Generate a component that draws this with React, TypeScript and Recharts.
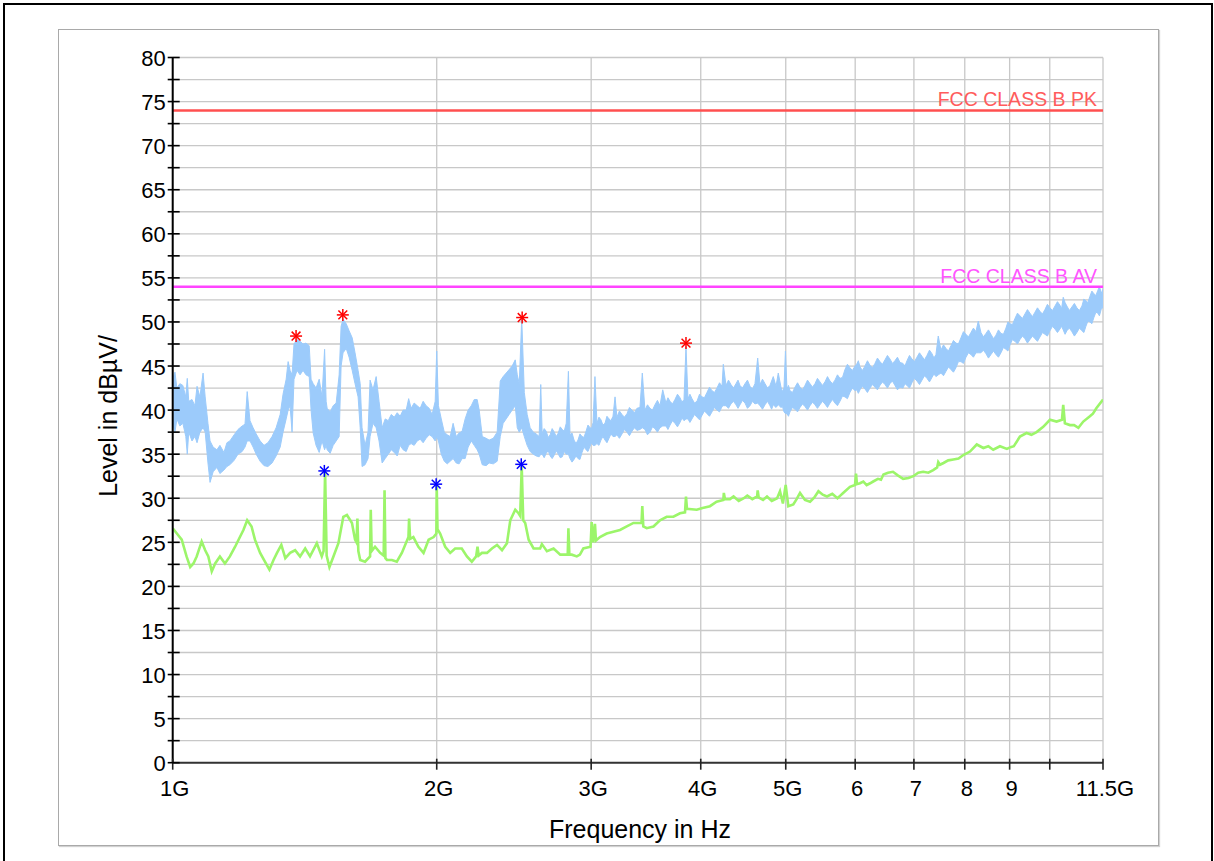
import React from 'react';
import {
  ComposedChart,
  Area,
  Line,
  Scatter,
  XAxis,
  YAxis,
  CartesianGrid,
  ReferenceLine,
} from 'recharts';

const FONT = '"Liberation Sans", Arial, Helvetica, sans-serif';
const PLOT_LEFT = 172.7;
const PLOT_BOTTOM = 762.7;

// ---- Peak trace (light blue): frequency in GHz, band low / high in dBµV ----
const peakFreqGHz = [
  1.000, 1.006, 1.011, 1.019, 1.027, 1.035, 1.039, 1.043, 1.052, 1.060,
  1.066, 1.074, 1.083, 1.089, 1.097, 1.103, 1.112, 1.123, 1.132, 1.144,
  1.153, 1.162, 1.175, 1.187, 1.200, 1.209, 1.216, 1.225, 1.235, 1.245,
  1.258, 1.271, 1.284, 1.298, 1.312, 1.326, 1.336, 1.347, 1.354, 1.361,
  1.368, 1.375, 1.386, 1.397, 1.408, 1.419, 1.431, 1.438, 1.446, 1.457,
  1.469, 1.480, 1.490, 1.496, 1.500, 1.512, 1.524, 1.536, 1.548, 1.556,
  1.564, 1.577, 1.589, 1.602, 1.614, 1.627, 1.636, 1.644, 1.657, 1.670,
  1.679, 1.692, 1.706, 1.719, 1.733, 1.747, 1.761, 1.775, 1.789, 1.803,
  1.817, 1.831, 1.846, 1.858, 1.870, 1.885, 1.900, 1.915, 1.930, 1.945,
  1.961, 1.976, 1.992, 2.000, 2.009, 2.024, 2.040, 2.056, 2.072, 2.088,
  2.105, 2.121, 2.138, 2.155, 2.172, 2.190, 2.207, 2.224, 2.236, 2.254,
  2.277, 2.295, 2.320, 2.344, 2.363, 2.381, 2.400, 2.419, 2.438, 2.458,
  2.471, 2.484, 2.500, 2.517, 2.536, 2.556, 2.577, 2.597, 2.617, 2.628,
  2.638, 2.652, 2.666, 2.680, 2.694, 2.708, 2.723, 2.737, 2.752, 2.766,
  2.781, 2.795, 2.810, 2.826, 2.838, 2.853, 2.868, 2.883, 2.898, 2.913,
  2.929, 2.944, 2.960, 2.975, 2.991, 3.003, 3.015, 3.030, 3.046, 3.062,
  3.078, 3.094, 3.111, 3.127, 3.144, 3.160, 3.177, 3.194, 3.210, 3.231,
  3.253, 3.274, 3.296, 3.317, 3.339, 3.361, 3.383, 3.410, 3.431, 3.455,
  3.478, 3.501, 3.524, 3.547, 3.570, 3.594, 3.620, 3.651, 3.670, 3.690,
  3.714, 3.738, 3.763, 3.788, 3.808, 3.828, 3.848, 3.868, 3.888, 3.909,
  3.935, 3.961, 3.987, 4.013, 4.039, 4.066, 4.093, 4.120, 4.147, 4.174,
  4.202, 4.230, 4.244, 4.274, 4.302, 4.330, 4.359, 4.388, 4.411, 4.434,
  4.463, 4.493, 4.522, 4.552, 4.582, 4.612, 4.645, 4.673, 4.704, 4.735,
  4.766, 4.797, 4.818, 4.839, 4.874, 4.903, 4.938, 4.957, 4.977, 4.996,
  5.016, 5.036, 5.056, 5.089, 5.123, 5.157, 5.191, 5.225, 5.259, 5.294,
  5.329, 5.364, 5.399, 5.434, 5.470, 5.506, 5.542, 5.579, 5.616, 5.653,
  5.690, 5.727, 5.765, 5.803, 5.841, 5.879, 5.918, 5.957, 5.997, 6.023,
  6.050, 6.076, 6.116, 6.156, 6.196, 6.237, 6.278, 6.320, 6.361, 6.403,
  6.445, 6.488, 6.530, 6.573, 6.616, 6.660, 6.704, 6.749, 6.802, 6.838,
  6.874, 6.919, 6.964, 7.010, 7.056, 7.103, 7.150, 7.197, 7.244, 7.292,
  7.340, 7.378, 7.417, 7.462, 7.515, 7.565, 7.615, 7.665, 7.715, 7.766,
  7.817, 7.868, 7.920, 7.972, 8.025, 8.078, 8.131, 8.184, 8.238, 8.289,
  8.347, 8.402, 8.458, 8.513, 8.569, 8.626, 8.683, 8.740, 8.797, 8.855,
  8.913, 8.960, 9.008, 9.067, 9.127, 9.187, 9.247, 9.308, 9.369, 9.431,
  9.493, 9.556, 9.619, 9.682, 9.746, 9.810, 9.874, 9.939, 10.005, 10.071,
  10.137, 10.204, 10.271, 10.315, 10.360, 10.410, 10.460, 10.529, 10.598, 10.668,
  10.738, 10.809, 10.881, 10.938, 10.995, 11.053, 11.111, 11.169, 11.228, 11.287,
  11.347, 11.392, 11.437, 11.468, 11.500,
];
const peakLow = [
  38.5, 37.5, 39.0, 38.2, 38.5, 37.0, 35.0, 37.5, 36.5, 37.0,
  36.3, 37.5, 38.0, 37.5, 34.0, 31.8, 33.0, 33.5, 32.8, 33.2,
  33.6, 33.8, 34.3, 35.0, 35.3, 35.8, 36.5, 36.5, 35.8, 35.0,
  34.2, 33.7, 33.6, 34.0, 34.8, 35.8, 37.5, 39.0, 40.0, 40.5,
  37.5, 43.5, 44.5, 44.0, 44.5, 44.0, 43.8, 40.0, 37.4, 36.0,
  35.2, 36.5, 35.5, 36.0, 35.5, 35.1, 36.0, 36.5, 37.0, 45.0,
  46.5, 47.0, 46.0, 44.5, 43.0, 41.5, 38.0, 33.6, 33.8, 34.5,
  37.0, 38.5, 38.0, 36.5, 34.0, 34.5, 35.0, 35.5, 35.2, 34.8,
  36.0, 35.5, 35.3, 36.0, 36.2, 36.0, 36.5, 36.7, 36.3, 36.8,
  37.2, 37.0, 36.5, 37.0, 36.5, 35.0, 34.2, 33.9, 34.2, 34.5,
  34.0, 33.9, 34.5, 34.5, 35.8, 36.5, 36.0, 35.5, 35.0, 33.8,
  33.7, 34.0, 33.9, 34.2, 37.0, 38.5, 39.0, 39.5, 40.0, 40.5,
  38.0, 37.5, 38.0, 37.0, 36.0, 35.3, 35.0, 34.8, 34.7, 35.0,
  35.0, 34.6, 35.1, 35.4, 34.8, 34.5, 34.9, 35.4, 35.0, 34.6,
  34.7, 35.3, 35.0, 35.0, 34.5, 34.1, 34.4, 34.8, 34.5, 34.4,
  35.2, 35.8, 35.5, 35.3, 35.9, 36.3, 36.0, 36.0, 36.2, 36.0,
  36.6, 37.0, 36.6, 36.3, 36.8, 37.3, 37.0, 37.0, 37.2, 36.8,
  37.3, 37.8, 37.5, 37.1, 37.6, 38.0, 37.7, 37.8, 38.0, 37.8,
  37.2, 37.5, 38.1, 37.9, 37.5, 38.0, 38.2, 38.2, 37.8, 38.3,
  38.8, 38.5, 38.1, 38.6, 39.1, 38.8, 39.0, 39.0, 38.6, 39.0,
  39.5, 39.2, 38.9, 39.4, 39.9, 39.6, 39.3, 39.8, 40.3, 40.0,
  39.8, 40.4, 40.5, 40.5, 40.2, 40.7, 41.0, 40.6, 40.2, 40.6,
  41.1, 40.8, 40.2, 40.5, 41.0, 40.7, 40.8, 40.5, 40.1, 40.6,
  41.0, 40.5, 40.1, 40.6, 40.3, 40.6, 40.3, 40.4, 39.8, 39.6,
  39.6, 39.3, 39.8, 40.3, 40.1, 39.8, 40.3, 40.7, 40.4, 40.0,
  40.5, 40.9, 40.6, 40.2, 40.6, 41.0, 40.7, 40.3, 40.8, 41.2,
  40.8, 40.5, 41.0, 41.6, 41.5, 41.3, 42.0, 42.5, 42.2, 42.3,
  41.9, 42.3, 42.7, 42.4, 42.0, 42.5, 42.9, 42.6, 42.3, 42.8,
  43.2, 42.9, 42.5, 43.0, 43.3, 42.8, 42.3, 42.6, 42.5, 43.0,
  42.8, 42.5, 43.1, 43.6, 43.3, 42.9, 43.4, 43.9, 43.6, 43.2,
  43.7, 44.1, 43.8, 44.0, 44.2, 43.9, 44.4, 44.9, 44.6, 44.3,
  44.8, 45.5, 45.5, 45.3, 46.0, 46.5, 46.3, 46.0, 46.5, 46.5,
  46.5, 46.8, 46.4, 45.9, 46.3, 46.7, 46.3, 46.0, 46.5, 47.1,
  46.9, 46.7, 47.4, 48.0, 47.8, 47.5, 48.0, 48.4, 48.1, 47.6,
  48.0, 48.4, 48.1, 47.8, 48.3, 48.8, 48.6, 48.4, 49.0, 49.5,
  49.2, 48.8, 49.2, 49.5, 49.1, 48.6, 49.0, 49.3, 48.9, 48.4,
  48.8, 49.3, 49.0, 48.8, 49.5, 50.1, 50.0, 49.8, 50.5, 51.1,
  51.0, 50.7, 51.3, 51.8, 51.5,
];
const peakHigh = [
  43.5, 44.3, 42.5, 43.0, 42.8, 41.5, 43.6, 41.0, 41.2, 40.5,
  42.7, 41.5, 44.2, 41.5, 38.5, 36.5, 35.8, 35.5, 36.0, 35.2,
  36.3, 36.5, 37.2, 37.8, 38.2, 38.4, 42.1, 38.8, 38.0, 37.3,
  36.5, 36.0, 36.3, 37.0, 38.0, 39.5, 41.8, 43.5, 45.5, 44.5,
  44.0, 47.5, 48.0, 47.8, 47.5, 47.6, 47.3, 43.5, 43.0, 42.5,
  43.5, 41.5, 46.9, 41.0, 40.2, 39.8, 40.5, 40.8, 44.0, 49.5,
  50.3, 49.8, 49.0, 48.2, 46.5, 44.5, 43.0, 38.0, 36.0, 37.5,
  43.4, 42.3, 43.8, 41.0, 38.0, 39.0, 38.8, 39.5, 39.2, 39.7,
  39.3, 40.0, 40.0, 41.3, 40.2, 40.8, 40.5, 40.2, 41.0, 40.5,
  40.2, 39.5, 41.0, 46.7, 40.5, 39.0, 37.5, 37.2, 37.0, 38.5,
  37.0, 37.4, 37.6, 39.0, 40.0, 40.5, 41.2, 41.2, 40.0, 37.0,
  36.8, 36.6, 36.8, 37.5, 43.3, 43.8, 44.2, 44.6, 45.0, 45.7,
  44.0, 43.0, 50.4, 42.0, 39.5, 38.0, 37.5, 37.3, 37.0, 42.9,
  37.3, 37.9, 37.6, 36.9, 37.2, 37.9, 37.5, 37.0, 37.4, 38.1,
  37.8, 37.6, 38.5, 44.4, 37.2, 37.4, 36.6, 36.2, 36.6, 37.3,
  37.0, 36.9, 37.6, 38.3, 38.0, 37.9, 38.6, 43.8, 38.5, 39.2,
  38.9, 38.3, 38.5, 39.3, 39.0, 38.8, 39.3, 41.5, 39.2, 39.9,
  39.5, 39.2, 39.6, 40.3, 40.0, 39.7, 40.2, 40.3, 44.2, 40.0,
  40.6, 40.2, 40.0, 40.6, 41.1, 40.5, 42.3, 40.8, 41.4, 41.0,
  40.7, 41.2, 41.8, 41.4, 40.9, 41.2, 47.2, 41.3, 41.8, 41.3,
  40.8, 41.0, 41.8, 41.5, 41.4, 42.0, 42.6, 42.2, 42.0, 42.5,
  43.1, 42.7, 45.2, 42.8, 43.4, 42.9, 42.5, 43.0, 43.4, 42.8,
  42.5, 43.0, 43.4, 42.7, 42.4, 43.0, 45.9, 42.9, 43.5, 43.0,
  42.5, 42.8, 43.3, 43.8, 42.7, 44.2, 42.6, 42.1, 42.5, 46.7,
  42.4, 42.8, 42.2, 42.0, 42.6, 43.1, 42.6, 42.3, 42.8, 43.4,
  43.0, 42.6, 43.0, 43.6, 43.2, 42.8, 43.2, 43.8, 43.3, 43.0,
  43.4, 44.0, 43.6, 43.7, 44.6, 45.2, 44.8, 44.5, 45.0, 45.2,
  45.6, 44.9, 44.5, 45.0, 45.6, 45.1, 44.8, 45.3, 45.9, 45.5,
  45.2, 45.7, 46.2, 45.8, 45.3, 45.6, 46.0, 45.4, 45.3, 45.0,
  45.6, 46.2, 45.8, 45.5, 46.0, 46.5, 46.1, 45.7, 46.2, 46.8,
  46.4, 45.9, 46.3, 48.4, 46.8, 47.4, 47.0, 46.7, 47.3, 47.9,
  47.6, 47.5, 48.2, 48.9, 48.6, 48.3, 48.8, 49.3, 48.9, 50.1,
  48.8, 48.3, 48.7, 49.1, 48.6, 48.1, 48.5, 49.1, 48.7, 48.6,
  49.3, 50.0, 49.8, 49.7, 50.4, 51.0, 50.7, 50.4, 50.9, 51.4,
  51.0, 50.6, 51.1, 51.6, 51.2, 50.9, 51.4, 52.0, 51.6, 51.3,
  51.8, 52.3, 51.9, 51.5, 52.8, 52.2, 51.8, 51.3, 51.7, 52.1,
  51.6, 51.3, 51.8, 52.6, 52.4, 52.2, 52.9, 53.5, 53.2, 53.0,
  53.6, 54.0, 53.5, 53.2, 53.8,
];

// ---- Average trace (light green) ----
const avgFreqGHz = [
  1.000, 1.011, 1.024, 1.037, 1.047, 1.056, 1.065, 1.079, 1.089, 1.098,
  1.108, 1.118, 1.132, 1.147, 1.162, 1.178, 1.193, 1.204, 1.216, 1.230,
  1.241, 1.258, 1.274, 1.289, 1.303, 1.315, 1.330, 1.344, 1.361, 1.379,
  1.397, 1.416, 1.434, 1.460, 1.479, 1.486, 1.492, 1.498, 1.509, 1.525,
  1.545, 1.565, 1.580, 1.601, 1.614, 1.620, 1.624, 1.628, 1.636, 1.657,
  1.679, 1.682, 1.686, 1.701, 1.724, 1.740, 1.744, 1.748, 1.755, 1.778,
  1.801, 1.825, 1.857, 1.860, 1.865, 1.881, 1.906, 1.932, 1.958, 1.984,
  1.998, 2.000, 2.004, 2.018, 2.045, 2.072, 2.099, 2.136, 2.165, 2.193,
  2.218, 2.226, 2.233, 2.252, 2.282, 2.312, 2.343, 2.374, 2.405, 2.426,
  2.458, 2.479, 2.490, 2.500, 2.510, 2.523, 2.546, 2.579, 2.624, 2.636,
  2.671, 2.718, 2.766, 2.821, 2.826, 2.833, 2.851, 2.889, 2.913, 2.939,
  2.995, 3.004, 3.015, 3.030, 3.038, 3.070, 3.125, 3.180, 3.236, 3.294,
  3.352, 3.424, 3.431, 3.440, 3.471, 3.533, 3.594, 3.658, 3.723, 3.788,
  3.838, 3.848, 3.858, 3.958, 4.019, 4.098, 4.170, 4.244, 4.250, 4.263,
  4.319, 4.360, 4.420, 4.479, 4.520, 4.580, 4.638, 4.645, 4.657, 4.711,
  4.760, 4.820, 4.888, 4.925, 4.963, 4.999, 5.034, 5.100, 5.145, 5.191,
  5.259, 5.329, 5.390, 5.448, 5.510, 5.572, 5.650, 5.727, 5.770, 5.813,
  5.918, 5.997, 6.013, 6.028, 6.076, 6.130, 6.184, 6.240, 6.290, 6.370,
  6.420, 6.462, 6.540, 6.626, 6.710, 6.805, 6.900, 6.988, 7.080, 7.174,
  7.270, 7.364, 7.440, 7.462, 7.496, 7.565, 7.660, 7.764, 7.870, 7.970,
  8.110, 8.256, 8.400, 8.510, 8.620, 8.774, 8.936, 9.020, 9.100, 9.247,
  9.410, 9.530, 9.660, 9.830, 10.005, 10.180, 10.325, 10.360, 10.405, 10.544,
  10.660, 10.780, 10.920, 11.111, 11.200, 11.300, 11.500,
];
const avgLevel = [
  26.6, 26.0, 25.3, 23.4, 22.2, 22.6, 23.4, 25.1, 24.1, 23.4,
  21.7, 22.6, 23.4, 22.6, 23.4, 24.5, 25.6, 26.4, 27.5, 26.8,
  25.3, 23.8, 22.8, 21.9, 23.0, 23.8, 24.7, 23.2, 23.8, 24.1,
  23.4, 24.3, 23.4, 24.9, 23.4, 24.0, 33.0, 23.5, 22.2, 23.4,
  24.9, 27.9, 28.1, 27.2, 25.3, 25.0, 27.7, 24.0, 23.0, 22.8,
  23.4, 28.7, 24.0, 24.5, 23.8, 23.5, 30.9, 23.2, 23.0, 23.0,
  22.8, 23.8, 25.6, 27.7, 25.4, 25.6, 24.5, 23.8, 25.3, 25.6,
  26.0, 31.5, 26.5, 26.0, 24.5, 23.8, 24.3, 24.3, 23.4, 22.8,
  23.4, 24.5, 23.5, 23.8, 23.8, 24.3, 24.7, 24.1, 24.9, 27.5,
  28.7, 28.3, 28.0, 33.6, 27.5, 27.2, 25.3, 24.3, 24.3, 24.8,
  24.0, 24.3, 23.6, 23.6, 26.6, 23.6, 23.6, 23.4, 23.6, 24.3,
  24.5, 27.3, 25.0, 27.1, 25.2, 25.6, 26.0, 26.2, 26.4, 26.8,
  27.2, 27.2, 29.1, 26.8, 26.6, 26.8, 27.5, 27.9, 27.9, 28.3,
  28.4, 30.2, 28.8, 28.7, 28.9, 29.1, 29.6, 29.8, 30.6, 29.9,
  29.9, 30.2, 29.7, 30.0, 30.3, 29.9, 30.2, 30.9, 30.1, 29.8,
  30.2, 29.7, 30.0, 30.8, 29.4, 31.5, 29.1, 29.3, 29.9, 30.6,
  29.8, 29.6, 30.1, 30.8, 30.4, 30.2, 30.5, 30.0, 30.3, 30.6,
  31.3, 31.5, 32.8, 31.6, 31.7, 31.9, 31.5, 31.7, 31.9, 32.2,
  32.1, 32.7, 32.9, 33.0, 32.6, 32.2, 32.3, 32.5, 32.9, 33.0,
  32.9, 33.2, 33.5, 34.1, 33.8, 34.0, 34.3, 34.4, 34.5, 34.9,
  35.3, 36.1, 35.7, 35.9, 35.5, 35.9, 35.6, 35.8, 35.9, 37.0,
  37.4, 37.2, 37.5, 38.1, 38.9, 38.7, 38.9, 40.6, 38.5, 38.3,
  38.3, 38.0, 38.7, 39.3, 39.6, 40.2, 41.2,
];

// ---- Final measurement markers ----
const pkMarkerFreqGHz = [1.3825, 1.563, 2.503, 3.848];
const pkMarkerLevel = [48.4, 50.8, 50.5, 47.6];
const avMarkerFreqGHz = [1.489, 1.997, 2.497];
const avMarkerLevel = [33.1, 31.6, 33.85];

// ---- Limits ----
const limitPkLevel = 74;
const limitAvLevel = 54;
const limitPkName = 'FCC CLASS B PK';
const limitAvName = 'FCC CLASS B AV';

// ---- Axes ----
const xTicks = [1, 2, 3, 4, 5, 6, 7, 8, 9, 10, 11.5];
const xTickLabels = ['1G', '2G', '3G', '4G', '5G', '6', '7', '8', '9', '', '11.5G'];
const yTicks = [
  0, 2.5, 5, 7.5, 10, 12.5, 15, 17.5, 20, 22.5, 25, 27.5, 30, 32.5, 35, 37.5, 40,
  42.5, 45, 47.5, 50, 52.5, 55, 57.5, 60, 62.5, 65, 67.5, 70, 72.5, 75, 77.5, 80,
];
const xTitle = 'Frequency in Hz';
const yTitle = 'Level in dBµV/';

const peakData = peakFreqGHz.map((f, i) => ({ f, range: [peakLow[i], peakHigh[i]] }));
const avgData = avgFreqGHz.map((f, i) => ({ f, v: avgLevel[i] }));
const pkMarkers = pkMarkerFreqGHz.map((f, i) => ({ f, v: pkMarkerLevel[i] }));
const avMarkers = avMarkerFreqGHz.map((f, i) => ({ f, v: avMarkerLevel[i] }));

const Asterisk = ({ cx, cy, color }: { cx: number; cy: number; color: string }) => {
  if (cx == null || cy == null || isNaN(cx) || isNaN(cy)) return null;
  const r = 6;
  const d = 4.4;
  return (
    <g stroke={color} strokeWidth={1.5}>
      <line x1={cx - r} y1={cy} x2={cx + r} y2={cy} />
      <line x1={cx} y1={cy - r} x2={cx} y2={cy + r} />
      <line x1={cx - d} y1={cy - d} x2={cx + d} y2={cy + d} />
      <line x1={cx - d} y1={cy + d} x2={cx + d} y2={cy - d} />
    </g>
  );
};

const YTick = (props: any) => {
  const { y, payload } = props;
  const v = payload.value as number;
  const major = Math.abs(v / 5 - Math.round(v / 5)) < 1e-6;
  return (
    <g>
      <line x1={PLOT_LEFT - 5} x2={PLOT_LEFT + 7} y1={y} y2={y} stroke="#000" strokeWidth={1.6} />
      {major && (
        <text x={PLOT_LEFT - 7} y={y + 8.5} textAnchor="end" fontSize={22} fontFamily={FONT} fill="#000">
          {v}
        </text>
      )}
    </g>
  );
};

const XTick = (props: any) => {
  const { x, payload } = props;
  const idx = xTicks.indexOf(payload.value);
  const label = idx >= 0 ? xTickLabels[idx] : '';
  return (
    <g>
      <line x1={x} x2={x} y1={PLOT_BOTTOM - 4} y2={PLOT_BOTTOM + 7} stroke="#222" strokeWidth={1.6} />
      {label && (
        <text x={x + 2} y={796} textAnchor="middle" fontSize={22} fontFamily={FONT} fill="#000">
          {label}
        </text>
      )}
    </g>
  );
};

const limitLabel = (text: string, color: string) => (p: any) => {
  const vb = p && p.viewBox ? p.viewBox : { x: PLOT_LEFT, y: 0, width: 930 };
  return (
    <text
      x={vb.x + vb.width - 6}
      y={vb.y - 4}
      textAnchor="end"
      fontSize={19.5}
      fontFamily={FONT}
      fill={color}
    >
      {text}
    </text>
  );
};

export default function App() {
  return (
    <div style={{ position: 'absolute', left: 0, top: 0, width: 1214, height: 861, overflow: 'hidden', background: '#fff' }}>
      <div
        style={{
          position: 'absolute',
          left: 3,
          top: 3,
          width: 1210,
          height: 858,
          border: '2px solid #000',
          borderBottom: 'none',
          boxSizing: 'border-box',
        }}
      />
      <div
        style={{
          position: 'absolute',
          left: 58,
          top: 29,
          width: 1101,
          height: 817,
          border: '1.5px solid #a9a9a9',
          boxSizing: 'border-box',
          boxShadow: '1px 1px 1px rgba(0,0,0,0.18)',
        }}
      />
      <div style={{ position: 'absolute', left: 0, top: 0 }}>
        <ComposedChart
          width={1214}
          height={861}
          margin={{ top: 57.5, right: 111, bottom: 58.3, left: 112.7 }}
        >
          <CartesianGrid stroke="#c8c8c8" strokeWidth={1.3} />
          <XAxis
            dataKey="f"
            type="number"
            scale="log"
            domain={[1, 11.5]}
            allowDataOverflow
            ticks={xTicks}
            interval={0}
            height={40}
            tickLine={false}
            axisLine={{ stroke: '#333', strokeWidth: 2 }}
            tick={<XTick />}
            label={{
              content: () => (
                <text x={640} y={838} textAnchor="middle" fontSize={25} fontFamily={FONT} fill="#000">
                  {xTitle}
                </text>
              ),
            }}
          />
          <YAxis
            type="number"
            domain={[0, 80]}
            allowDataOverflow
            ticks={yTicks}
            interval={0}
            width={60}
            tickLine={false}
            axisLine={{ stroke: '#000', strokeWidth: 2 }}
            tick={<YTick />}
            label={{
              content: () => (
                <text
                  x={117}
                  y={416}
                  textAnchor="middle"
                  fontSize={25}
                  fontFamily={FONT}
                  fill="#000"
                  transform="rotate(-90, 117, 416)"
                >
                  {yTitle}
                </text>
              ),
            }}
          />
          <Area
            data={peakData}
            dataKey="range"
            type="linear"
            stroke="#9ccbfb"
            strokeWidth={1}
            fill="#9ccbfb"
            fillOpacity={1}
            dot={false}
            activeDot={false}
            isAnimationActive={false}
          />
          <Line
            data={avgData}
            dataKey="v"
            type="linear"
            stroke="#9cf56a"
            strokeWidth={2.6}
            dot={false}
            activeDot={false}
            isAnimationActive={false}
          />
          <ReferenceLine
            y={limitPkLevel}
            stroke="#ff4f4f"
            strokeWidth={2.5}
            label={limitLabel(limitPkName, '#ff5c5c')}
          />
          <ReferenceLine
            y={limitAvLevel}
            stroke="#ff44ff"
            strokeWidth={2.5}
            label={limitLabel(limitAvName, '#ff55ff')}
          />
          <Scatter
            data={pkMarkers}
            dataKey="v"
            isAnimationActive={false}
            shape={(p: any) => <Asterisk cx={p.cx} cy={p.cy} color="#ff0000" />}
          />
          <Scatter
            data={avMarkers}
            dataKey="v"
            isAnimationActive={false}
            shape={(p: any) => <Asterisk cx={p.cx} cy={p.cy} color="#0000ff" />}
          />
        </ComposedChart>
      </div>
    </div>
  );
}
